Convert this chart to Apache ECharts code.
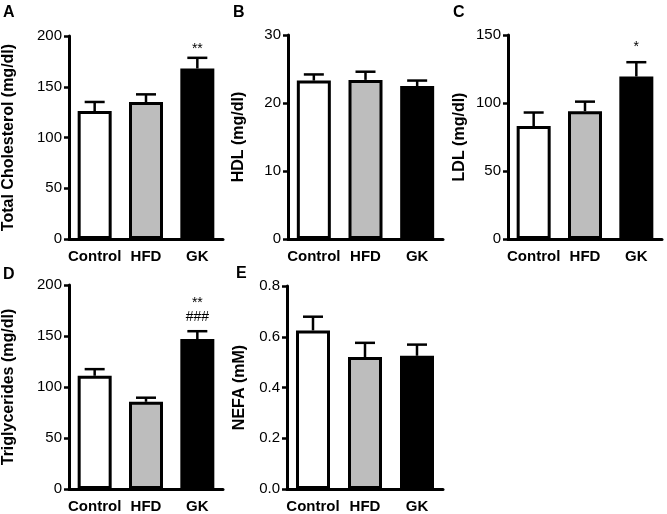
<!DOCTYPE html>
<html>
<head>
<meta charset="utf-8">
<script src="https://cdn.jsdelivr.net/npm/echarts@6/dist/echarts.min.js"></script>
<style>
  html, body { margin: 0; padding: 0; background: #fff; }
  #chart { width: 667px; height: 514px; }
</style>
</head>
<body>
<div id="chart"></div>
<script>
// groups and their fills
const categories = ['Control', 'HFD', 'GK'];
const fills = ['#ffffff', '#bdbdbd', '#000000'];

// mean and SEM per panel
const cholMean = [126, 135, 168];
const cholSem = [9, 7.5, 10.5];
const hdlMean = [23.3, 23.4, 22.5];
const hdlSem = [0.9, 1.2, 0.8];
const ldlMean = [83, 94, 119.5];
const ldlSem = [10, 7, 10.5];
const tgMean = [111, 85.5, 147];
const tgSem = [6.5, 4, 7.7];
const nefaMean = [0.625, 0.52, 0.525];
const nefaSem = [0.054, 0.056, 0.044];

// significance marks: [category index, y value, text]
const cholSig = [[2, 187, '**']];
const ldlSig = [[2, 141, '*']];
const tgSig = [[2, 182, '**'], [2, 168, '###']];

const font = 'Liberation Sans, Arial, Helvetica, sans-serif';

const panels = [
  { letter: 'A', name: 'Total Cholesterol (mg/dl)', mean: cholMean, sem: cholSem, sig: cholSig,
    max: 200, step: 50, dec: 0, grid: { left: 69, top: 36, width: 154, height: 203 }, gap: 52, lx: 3, ly: 5 },
  { letter: 'B', name: 'HDL (mg/dl)', mean: hdlMean, sem: hdlSem, sig: [],
    max: 30, step: 10, dec: 0, grid: { left: 288, top: 35, width: 155, height: 204 }, gap: 41, lx: 233, ly: 5 },
  { letter: 'C', name: 'LDL (mg/dl)', mean: ldlMean, sem: ldlSem, sig: ldlSig,
    max: 150, step: 50, dec: 0, grid: { left: 508, top: 35, width: 154, height: 204 }, gap: 40, lx: 453, ly: 5 },
  { letter: 'D', name: 'Triglycerides (mg/dl)', mean: tgMean, sem: tgSem, sig: tgSig,
    max: 200, step: 50, dec: 0, grid: { left: 69, top: 285, width: 154, height: 204 }, gap: 52, lx: 3, ly: 267 },
  { letter: 'E', name: 'NEFA (mM)', mean: nefaMean, sem: nefaSem, sig: [],
    max: 0.8, step: 0.2, dec: 1, grid: { left: 287, top: 286, width: 156, height: 203 }, gap: 39, lx: 236, ly: 266 }
];

const chart = echarts.init(document.getElementById('chart'), null, { renderer: 'canvas' });

const grid = [], xAxis = [], yAxis = [], series = [], graphic = [];

panels.forEach((p, i) => {
  grid.push(p.grid);
  xAxis.push({
    type: 'category', gridIndex: i, data: categories,
    axisLine: { lineStyle: { color: '#000', width: 3 } },
    axisTick: { alignWithLabel: true, length: 6, lineStyle: { color: '#000', width: 2.5 } },
    axisLabel: { color: '#000', fontFamily: font, fontWeight: 'bold', fontSize: 15, margin: 10, interval: 0 }
  });
  yAxis.push({
    type: 'value', gridIndex: i, min: 0, max: p.max, interval: p.step,
    name: p.name, nameLocation: 'middle', nameGap: p.gap,
    nameTextStyle: { color: '#000', fontFamily: font, fontWeight: 'bold', fontSize: 16 },
    axisLine: { show: true, lineStyle: { color: '#000', width: 3 } },
    axisTick: { show: true, length: 5, lineStyle: { color: '#000', width: 2.5 } },
    splitLine: { show: false },
    axisLabel: { color: '#000', fontFamily: font, fontSize: 15, margin: 7,
      formatter: v => v.toFixed(p.dec) }
  });
  series.push({
    type: 'bar', xAxisIndex: i, yAxisIndex: i, barWidth: 34,
    data: p.mean.map((v, k) => ({ value: v, itemStyle: { color: fills[k] } })),
    itemStyle: { borderColor: '#000', borderWidth: 3 },
    silent: true
  });
  series.push({
    type: 'custom', xAxisIndex: i, yAxisIndex: i, z: 3, silent: true,
    data: p.mean.map((v, k) => [k, v, v + p.sem[k]]),
    renderItem: (params, api) => {
      const base = api.coord([api.value(0), api.value(1)]);
      const top = api.coord([api.value(0), api.value(2)]);
      const style = { stroke: '#000', lineWidth: 2.5 };
      return {
        type: 'group',
        children: [
          { type: 'line', shape: { x1: base[0], y1: base[1], x2: top[0], y2: top[1] }, style },
          { type: 'line', shape: { x1: top[0] - 10, y1: top[1], x2: top[0] + 10, y2: top[1] }, style }
        ]
      };
    }
  });
  if (p.sig.length) {
    series.push({
      type: 'custom', xAxisIndex: i, yAxisIndex: i, z: 3, silent: true,
      data: p.sig.map(s => [s[0], s[1]]),
      renderItem: (params, api) => {
        const pt = api.coord([api.value(0), api.value(1)]);
        const s = p.sig[params.dataIndex];
        return {
          type: 'text',
          style: { x: pt[0], y: pt[1], text: s[2], fill: '#000', font: '14px ' + font,
            textAlign: 'center', textVerticalAlign: 'middle' }
        };
      }
    });
  }
  graphic.push({
    type: 'text', left: p.lx, top: p.ly,
    style: { text: p.letter, fill: '#000', font: 'bold 16px ' + font }
  });
});

chart.setOption({
  animation: false,
  backgroundColor: '#fff',
  grid, xAxis, yAxis, series, graphic
});
</script>
</body>
</html>
